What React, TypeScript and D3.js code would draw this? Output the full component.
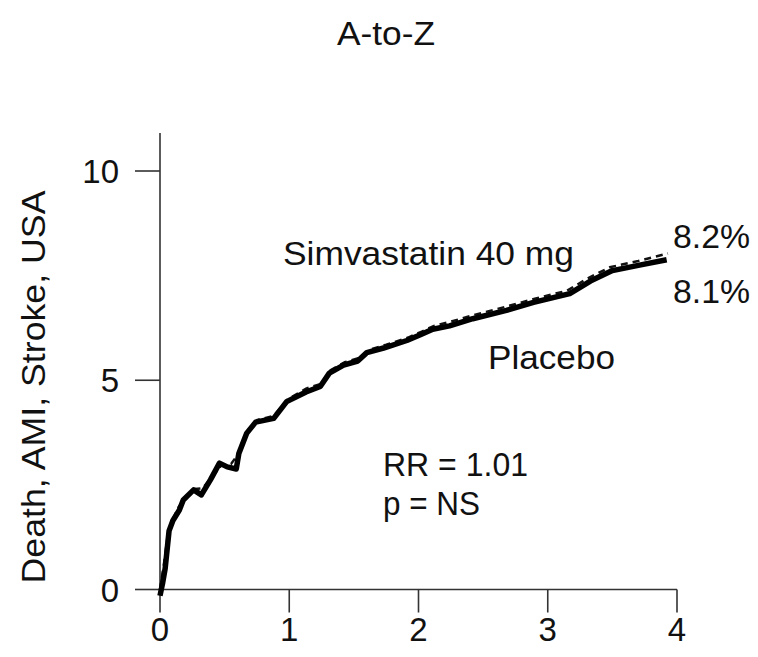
import React from "react";
import * as d3 from "d3";

const title = "A-to-Z";
const yAxisLabel = "Death, AMI, Stroke, USA";
const xTicks = [0, 1, 2, 3, 4];
const yTicks = [0, 5, 10];

// Solid (thick) curve – ends at 8.1%
const solidX = [0, 0.02, 0.04, 0.07, 0.1, 0.15, 0.18, 0.26, 0.32, 0.39, 0.46, 0.52, 0.59, 0.61, 0.67, 0.74, 0.88, 0.98, 1.13, 1.24, 1.31, 1.42, 1.53, 1.6, 1.73, 1.91, 2.01, 2.11, 2.24, 2.42, 2.68, 2.89, 3.17, 3.33, 3.5, 3.71, 3.92];
const solidY = [-0.15, 0.15, 0.5, 1.4, 1.65, 1.9, 2.14, 2.38, 2.26, 2.62, 3.02, 2.93, 2.88, 3.25, 3.73, 4.0, 4.09, 4.49, 4.72, 4.85, 5.17, 5.36, 5.46, 5.66, 5.77, 5.95, 6.08, 6.22, 6.3, 6.47, 6.67, 6.86, 7.07, 7.37, 7.62, 7.75, 7.88];

// Dashed (thin) curve – ends at 8.2%
const dashX = [0, 0.03, 0.06, 0.09, 0.14, 0.2, 0.27, 0.33, 0.4, 0.47, 0.55, 0.62, 0.68, 0.75, 0.88, 0.99, 1.13, 1.25, 1.32, 1.43, 1.55, 1.62, 1.75, 1.92, 2.03, 2.12, 2.25, 2.43, 2.68, 2.9, 3.15, 3.3, 3.48, 3.7, 3.93];
const dashY = [0, 0.6, 1.3, 1.6, 1.95, 2.2, 2.4, 2.42, 2.68, 2.95, 3.0, 3.3, 3.8, 4.05, 4.15, 4.55, 4.8, 4.92, 5.24, 5.43, 5.54, 5.73, 5.85, 6.02, 6.17, 6.3, 6.4, 6.56, 6.76, 6.95, 7.14, 7.42, 7.7, 7.85, 8.03];

const labelSimva = "Simvastatin 40 mg";
const labelPlacebo = "Placebo";
const endHigh = "8.2%";
const endLow = "8.1%";
const statRR = "RR = 1.01";
const statP = "p = NS";

const W = 758;
const H = 657;
const FONT = "'Liberation Sans', Arial, Helvetica, sans-serif";
const INK = "#111";

export default function App() {
  const x = d3.scaleLinear().domain([0, 4]).range([160, 677]);
  const y = d3.scaleLinear().domain([0, 10]).range([589.5, 171]);
  const line = d3
    .line<[number, number]>()
    .x((d) => x(d[0]))
    .y((d) => y(d[1]));
  const solid = solidX.map((v, i) => [v, solidY[i]] as [number, number]);
  const dashed = dashX.map((v, i) => [v, dashY[i]] as [number, number]);
  const fs = 33;

  return (
    <svg
      width={W}
      height={H}
      style={{ position: "absolute", left: 0, top: 0, background: "#fff" }}
      fontFamily={FONT}
    >
      <rect width={W} height={H} fill="#fff" />
      <text x={386} y={45} textAnchor="middle" fontSize={fs} fill={INK} textLength={98} lengthAdjust="spacingAndGlyphs">
        {title}
      </text>
      <text
        transform={`translate(45,387) rotate(-90)`}
        textAnchor="middle"
        fontSize={fs}
        fill={INK}
        textLength={393}
        lengthAdjust="spacingAndGlyphs"
      >
        {yAxisLabel}
      </text>

      {/* axes */}
      <line x1={x(0)} x2={x(0)} y1={133} y2={y(0)} stroke="#333" strokeWidth={1.6} />
      <line x1={x(0)} x2={x(4)} y1={y(0)} y2={y(0)} stroke="#333" strokeWidth={1.6} />
      {yTicks.map((t) => (
        <g key={"y" + t}>
          <line x1={x(0) - 25} x2={x(0)} y1={y(t)} y2={y(t)} stroke="#333" strokeWidth={1.6} />
          <text x={119} y={y(t) + 12} textAnchor="end" fontSize={fs} fill={INK}>
            {t}
          </text>
        </g>
      ))}
      {xTicks.map((t) => (
        <g key={"x" + t}>
          <line x1={x(t)} x2={x(t)} y1={y(0)} y2={y(0) + 23} stroke="#333" strokeWidth={1.6} />
          <text x={x(t)} y={641} textAnchor="middle" fontSize={fs} fill={INK}>
            {t}
          </text>
        </g>
      ))}

      {/* curves */}
      <path d={line(dashed) || ""} fill="none" stroke="#111" strokeWidth={2.5} strokeDasharray="7,5" />
      <path d={line(solid) || ""} fill="none" stroke="#000" strokeWidth={5.5} strokeLinejoin="round" />

      {/* annotations */}
      <text x={283} y={265} fontSize={fs} fill={INK} textLength={291} lengthAdjust="spacingAndGlyphs">
        {labelSimva}
      </text>
      <text x={488} y={369} fontSize={fs} fill={INK} textLength={127} lengthAdjust="spacingAndGlyphs">
        {labelPlacebo}
      </text>
      <text x={673} y={248} fontSize={fs} fill={INK} textLength={77} lengthAdjust="spacingAndGlyphs">
        {endHigh}
      </text>
      <text x={673} y={303} fontSize={fs} fill={INK} textLength={77} lengthAdjust="spacingAndGlyphs">
        {endLow}
      </text>
      <text x={383} y={476} fontSize={fs} fill={INK} textLength={145} lengthAdjust="spacingAndGlyphs">
        {statRR}
      </text>
      <text x={383} y={515} fontSize={fs} fill={INK} textLength={97} lengthAdjust="spacingAndGlyphs">
        {statP}
      </text>
    </svg>
  );
}
